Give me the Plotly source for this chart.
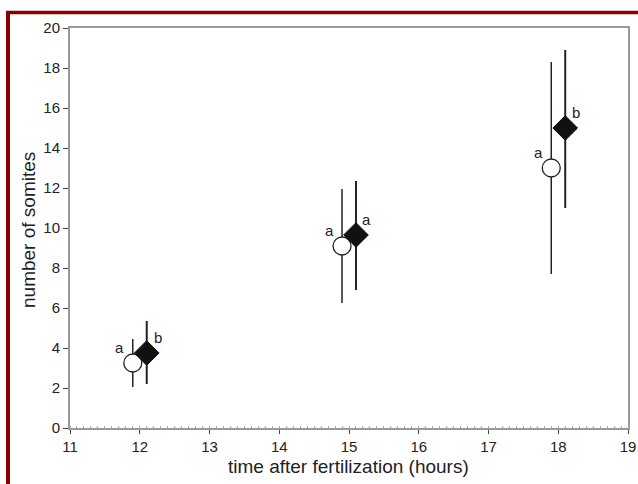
import plotly.graph_objects as go

# open circles (group 1)
x_open = [11.9, 14.9, 17.9]
y_open = [3.25, 9.1, 13.0]
hi_open = [4.45, 11.95, 18.3]
lo_open = [2.05, 6.25, 7.7]
lab_open = ["a", "a", "a"]

# filled diamonds (group 2)
x_fill = [12.1, 15.1, 18.1]
y_fill = [3.75, 9.65, 15.0]
hi_fill = [5.35, 12.35, 18.9]
lo_fill = [2.2, 6.9, 11.0]
lab_fill = ["b", "a", "b"]

x_ticks = [11, 12, 13, 14, 15, 16, 17, 18, 19]
y_ticks = [0, 2, 4, 6, 8, 10, 12, 14, 16, 18, 20]
x_title = "time after fertilization (hours)"
y_title = "number of somites"

fig = go.Figure()
fig.add_trace(go.Scatter(
    x=x_open, y=y_open, mode="markers",
    marker=dict(symbol="circle", size=18, color="white",
                line=dict(color="#222", width=1.3)),
    error_y=dict(type="data", symmetric=False,
                 array=[h - v for h, v in zip(hi_open, y_open)],
                 arrayminus=[v - l for l, v in zip(lo_open, y_open)],
                 width=0, thickness=1.5, color="#222"),
    showlegend=False))
fig.add_trace(go.Scatter(
    x=x_fill, y=y_fill, mode="markers",
    marker=dict(symbol="diamond", size=19, color="#111",
                line=dict(color="#111", width=1)),
    error_y=dict(type="data", symmetric=False,
                 array=[h - v for h, v in zip(hi_fill, y_fill)],
                 arrayminus=[v - l for l, v in zip(lo_fill, y_fill)],
                 width=0, thickness=2, color="#222"),
    showlegend=False))

font = "Liberation Sans, Arial, sans-serif"
pw, ph = 558.0, 400.0
def px(p):
    return (p - 70) / pw
def py(p):
    return (428 - p) / ph

ann = []
for x, y, t in zip(x_open, y_open, lab_open):
    ann.append(dict(x=x, y=y, text=t, showarrow=False, xshift=-13, yshift=16,
                    font=dict(size=15, color="#222", family=font)))
for x, y, t in zip(x_fill, y_fill, lab_fill):
    ann.append(dict(x=x, y=y, text=t, showarrow=False, xshift=11, yshift=16,
                    font=dict(size=15, color="#222", family=font)))
ann.append(dict(xref="paper", yref="paper", x=px(348), y=py(466), text=x_title,
                showarrow=False, xanchor="center", yanchor="middle",
                font=dict(size=19, color="#222", family=font)))
ann.append(dict(xref="paper", yref="paper", x=px(28), y=py(230), text=y_title,
                showarrow=False, xanchor="center", yanchor="middle", textangle=-90,
                font=dict(size=19, color="#222", family=font)))

shapes = [
    dict(type="line", xref="paper", yref="paper", x0=px(8), x1=px(8),
         y0=py(11), y1=py(500), line=dict(color="#8B0000", width=4)),
    dict(type="line", xref="paper", yref="paper", x0=px(6), x1=px(645),
         y0=py(12.5), y1=py(12.5), line=dict(color="#8B0000", width=3.5)),
]

fig.update_layout(
    width=638, height=484,
    margin=dict(l=70, r=10, t=28, b=56, autoexpand=False),
    paper_bgcolor="white", plot_bgcolor="white",
    font=dict(family=font, color="#222", size=15),
    annotations=ann, shapes=shapes,
    xaxis=dict(range=[11, 19], tickvals=x_ticks, ticks="outside", ticklen=4,
               tickcolor="#444", showline=True, linecolor="#999", linewidth=2,
               mirror=True, showgrid=False, zeroline=False, automargin=False,
               minor=dict(dtick=0.1, ticks="inside", ticklen=2, tickcolor="#aaa"),
               tickfont=dict(size=15)),
    yaxis=dict(range=[0, 20], tickvals=y_ticks, ticks="outside", ticklen=5,
               tickcolor="#444", showline=True, linecolor="#999", linewidth=2,
               mirror=True, showgrid=False, zeroline=False, automargin=False,
               tickfont=dict(size=15)),
)

fig.write_html("out.html")
